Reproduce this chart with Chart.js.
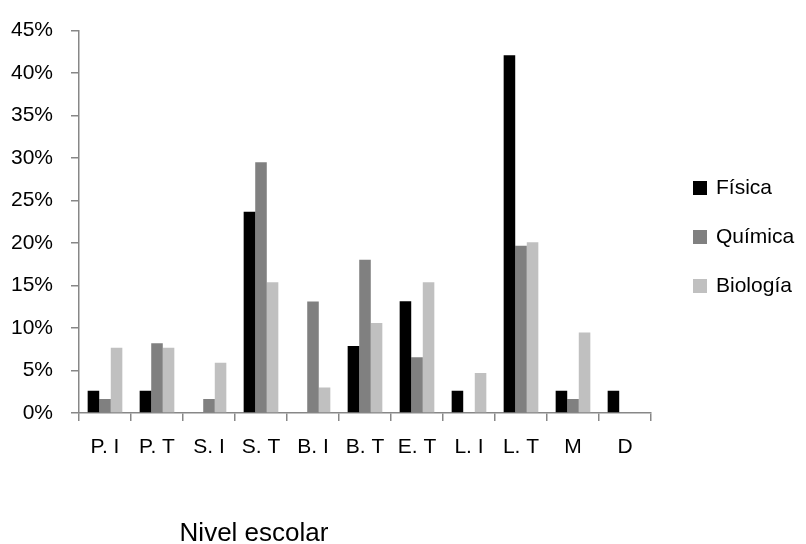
<!DOCTYPE html>
<html>
<head>
<meta charset="utf-8">
<script src="https://cdn.jsdelivr.net/npm/chart.js@4.4.1/dist/chart.umd.min.js"></script>
<style>
    body { margin: 0; background: #fff; }
    #wrap { width: 806px; height: 544px; position: relative; }
</style>
</head>
<body>
<div id="wrap"><canvas id="nivelChart"></canvas></div>
<script>
// datos (porcentaje)
const niveles = ['P. I', 'P. T', 'S. I', 'S. T', 'B. I', 'B. T', 'E. T', 'L. I', 'L. T', 'M', 'D'];
const fisica = [2.63, 2.63, 0, 23.68, 0, 7.89, 13.16, 2.63, 42.11, 2.63, 2.63];
const quimica = [1.64, 8.2, 1.64, 29.51, 13.11, 18.03, 6.56, 0, 19.67, 1.64, 0];
const biologia = [7.69, 7.69, 5.92, 15.38, 3.0, 10.6, 15.38, 4.7, 20.1, 9.47, 0];
const yTicks = [0, 5, 10, 15, 20, 25, 30, 35, 40, 45];

const FONT = '"Liberation Sans", Arial, sans-serif';
const AXIS_COLOR = '#878787';

// leyenda a la derecha y titulo del eje, dibujados a mano
const extras = {
    id: 'extras',
    afterDraw(chart) {
        const ctx = chart.ctx;
        ctx.save();
        ctx.textBaseline = 'middle';
        ctx.textAlign = 'left';
        ctx.font = '21px ' + FONT;
        chart.data.datasets.forEach((ds, i) => {
            const y = 188 + i * 49;
            ctx.fillStyle = ds.backgroundColor;
            ctx.fillRect(693, y - 7, 14, 14);
            ctx.fillStyle = '#000';
            ctx.fillText(ds.label, 716, y);
        });
        ctx.font = '26px ' + FONT;
        ctx.textAlign = 'center';
        ctx.textBaseline = 'alphabetic';
        ctx.fillText('Nivel escolar', 254, 541);
        ctx.restore();
    }
};

const ctx = document.getElementById('nivelChart').getContext('2d');
const nivelChart = new Chart(ctx, {
    type: 'bar',
    data: {
        labels: niveles,
        datasets: [
            { label: 'Física', data: fisica, backgroundColor: '#000000' },
            { label: 'Química', data: quimica, backgroundColor: '#808080' },
            { label: 'Biología', data: biologia, backgroundColor: '#C0C0C0' }
        ]
    },
    options: {
        responsive: true,
        maintainAspectRatio: false,
        animation: false,
        categoryPercentage: 0.667,
        barPercentage: 1,
        layout: {
            padding: { top: 23, right: 155, bottom: 0, left: 0 }
        },
        plugins: {
            legend: { display: false },
            tooltip: { enabled: false }
        },
        scales: {
            x: {
                offset: true,
                grid: {
                    offset: true,
                    drawOnChartArea: false,
                    drawTicks: true,
                    tickLength: 8,
                    color: AXIS_COLOR,
                    lineWidth: 1.5
                },
                border: { color: AXIS_COLOR, width: 1.5 },
                ticks: {
                    color: '#000',
                    font: { family: FONT, size: 21 },
                    padding: 14,
                    autoSkip: false,
                    maxRotation: 0
                },
                afterFit: function (scale) {
                    scale.height = 131;
                }
            },
            y: {
                min: 0,
                max: 45,
                afterBuildTicks: function (scale) {
                    scale.ticks = yTicks.map(v => ({ value: v }));
                },
                grid: {
                    drawOnChartArea: false,
                    drawTicks: true,
                    tickLength: 8,
                    color: AXIS_COLOR,
                    lineWidth: 1.5
                },
                border: { color: AXIS_COLOR, width: 1.5 },
                ticks: {
                    color: '#000',
                    font: { family: FONT, size: 21 },
                    padding: 18,
                    callback: function (value) {
                        return value + '%';
                    }
                },
                afterFit: function (scale) {
                    scale.width = 79;
                }
            }
        }
    },
    plugins: [extras]
});
</script>
</body>
</html>
